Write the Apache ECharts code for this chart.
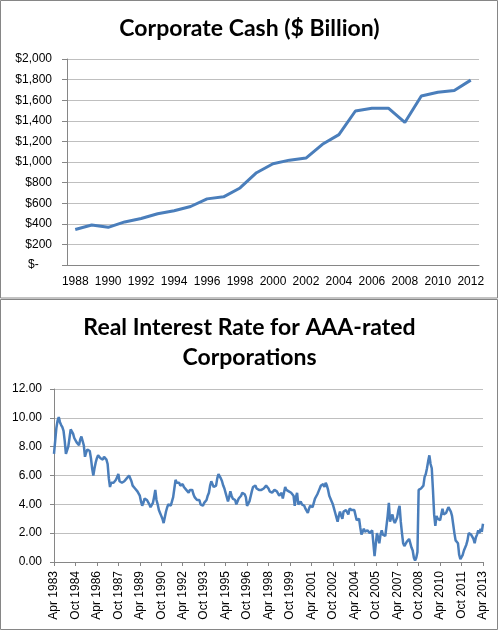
<!DOCTYPE html>
<html>
<head>
<meta charset="utf-8">
<title>Corporate Cash / Real Interest Rate</title>
<script src="https://cdn.jsdelivr.net/npm/echarts@6/dist/echarts.min.js"></script>
<style>
  html, body { margin: 0; padding: 0; background: #fff; }
  #chart { width: 499px; height: 632px; }
</style>
</head>
<body>
<div id="chart"></div>
<script>
// top chart: corporate cash, $ billion
const cashYears = ['1988', '1989', '1990', '1991', '1992', '1993', '1994', '1995', '1996', '1997',
  '1998', '1999', '2000', '2001', '2002', '2003', '2004', '2005', '2006', '2007',
  '2008', '2009', '2010', '2011', '2012'];
const cashValues = [345, 388, 366, 418, 452, 498, 527, 568, 642, 662,
  748, 896, 983, 1018, 1038, 1172, 1266, 1495, 1522, 1522,
  1384, 1641, 1678, 1695, 1795];

// bottom chart: real AAA rate, monthly from Apr 1983 to Apr 2013
const rateStart = { year: 1983, month: 3 };
const monthNames = ['Jan', 'Feb', 'Mar', 'Apr', 'May', 'Jun', 'Jul', 'Aug', 'Sep', 'Oct', 'Nov', 'Dec'];
const realRate = [
  7.5, 8.4, 9.3, 9.8, 10.05, 9.7, 9.5, 9.35, 9.1, 8.4, 7.5, 7.4, 8.0, 8.6, 9.2, 9.1, 8.9, 8.6, 8.5,
  8.3, 8.2, 8.1, 8.5, 8.7, 8.6, 8.1, 7.3, 7.6, 7.8, 7.8, 7.7, 7.2, 6.5, 6.0, 6.5, 6.9, 7.2,
  7.4, 7.3, 7.2, 7.2, 7.1, 7.3, 7.3, 7.1, 6.8, 5.8, 5.2, 5.5, 5.6, 5.5, 5.5, 5.7, 5.9, 6.1,
  5.6, 5.7, 5.5, 5.5, 5.6, 5.7, 5.8, 5.9, 6.0, 5.9, 5.6, 5.3, 5.2, 5.1, 5.1, 4.9, 4.8, 4.6,
  4.2, 3.9, 4.1, 4.4, 4.5, 4.3, 4.2, 4.0, 3.8, 3.9, 4.1, 4.5, 5.0, 4.3, 4.0, 3.6, 3.4, 3.2,
  3.0, 2.7, 3.1, 3.5, 3.8, 4.0, 3.9, 3.9, 4.2, 4.5, 5.1, 5.7, 5.5, 5.4, 5.5, 5.3, 5.3, 5.4,
  5.2, 5.1, 5.0, 5.0, 4.8, 5.0, 4.9, 5.0, 4.7, 4.5, 4.4, 4.3, 4.2, 4.3, 4.0, 3.9, 3.9, 4.1,
  4.0, 4.3, 4.6, 4.8, 5.3, 5.6, 5.5, 5.2, 5.3, 5.3, 5.8, 6.1, 6.0, 5.8, 5.6, 5.3, 5.1, 4.8,
  4.5, 4.2, 4.5, 4.9, 4.6, 4.4, 4.4, 4.3, 4.0, 4.2, 4.4, 4.5, 4.6, 4.8, 4.7, 4.7, 4.5, 3.9,
  3.8, 4.2, 4.3, 4.9, 5.2, 5.3, 5.3, 5.1, 5.0, 5.0, 4.9, 5.0, 5.0, 5.1, 5.2, 5.3, 5.2, 5.1,
  4.9, 4.9, 4.8, 4.9, 5.0, 4.9, 4.9, 4.8, 4.6, 4.7, 4.8, 4.4, 4.8, 5.2, 5.0, 4.9, 4.9, 5.0,
  4.8, 4.9, 4.6, 3.9, 4.5, 4.8, 4.0, 4.1, 4.2, 4.0, 4.0, 3.9, 3.7, 3.6, 3.4, 3.7, 3.9, 3.8,
  3.8, 4.1, 4.4, 4.5, 4.7, 4.9, 5.1, 5.3, 5.3, 5.4, 5.2, 5.5, 5.3, 5.0, 4.6, 4.5, 4.2, 4.0,
  3.7, 3.4, 3.1, 2.8, 3.2, 3.5, 3.2, 3.0, 3.5, 3.4, 3.6, 3.6, 3.3, 3.7, 3.7, 3.6, 3.7, 3.6,
  3.5, 2.9, 3.0, 3.0, 2.4, 1.9, 2.1, 2.3, 2.1, 2.0, 2.2, 2.3, 2.0, 1.9, 2.2, 2.3, 0.4, 1.2,
  2.0, 1.7, 1.3, 1.9, 2.2, 1.9, 1.8, 1.8, 1.9, 3.2, 4.1, 2.8, 3.1, 3.3, 2.9, 2.7, 2.9, 3.1,
  3.6, 3.9, 2.8, 2.0, 1.3, 1.1, 1.2, 1.4, 1.5, 1.6, 1.5, 1.0, 0.8, 0.3, 0.1, 0.3, 0.7, 5.0,
  5.0, 5.1, 5.2, 5.3, 5.9, 6.1, 6.5, 7.0, 7.4, 6.8, 6.5, 5.0, 3.3, 2.5, 3.2, 3.0, 3.1, 2.9,
  3.3, 3.7, 3.3, 3.3, 3.4, 3.6, 3.8, 3.7, 3.5, 3.2, 2.6, 2.0, 1.5, 1.4, 1.3, 0.5, 0.2, 0.3,
  0.5, 0.8, 0.9, 1.2, 1.5, 2.0, 2.0, 1.9, 1.8, 1.6, 1.3, 1.7, 1.9, 2.2, 2.0, 2.3, 2.1, 2.65
];

const rateMonths = realRate.map((v, i) => {
  const m = rateStart.month + i;
  return monthNames[m % 12] + ' ' + (rateStart.year + Math.floor(m / 12));
});

const lineColor = '#4a7ebb';
const axisGray = '#868686';
const gridGray = '#bfbfbf';
const labelFont = '"Liberation Sans", Arial, sans-serif';
const titleFont = 'Lato, "Open Sans", sans-serif';

const myChart = echarts.init(document.getElementById('chart'));

myChart.setOption({
  animation: false,
  title: [
    {
      text: 'Corporate Cash ($ Billion)',
      left: 'center',
      top: 12,
      textStyle: { fontFamily: titleFont, fontSize: 23, fontWeight: 'bold', color: '#000' }
    },
    {
      text: 'Real Interest Rate for AAA-rated\nCorporations',
      left: 'center',
      top: 308,
      textStyle: { fontFamily: titleFont, fontSize: 23, fontWeight: 'bold', color: '#000', lineHeight: 30 }
    }
  ],
  graphic: [
    { type: 'rect', shape: { x: 0.5, y: 0.5, width: 497, height: 297.5 }, style: { fill: 'none', stroke: axisGray, lineWidth: 1 }, silent: true },
    { type: 'rect', shape: { x: 0.5, y: 299.5, width: 497, height: 330 }, style: { fill: 'none', stroke: axisGray, lineWidth: 1 }, silent: true }
  ],
  grid: [
    { left: 67, top: 59, width: 412, height: 206 },
    { left: 54, top: 389, width: 429, height: 173 }
  ],
  xAxis: [
    {
      type: 'category',
      gridIndex: 0,
      data: cashYears,
      boundaryGap: true,
      axisLine: { lineStyle: { color: axisGray } },
      axisTick: { interval: 0, length: 5, lineStyle: { color: axisGray } },
      axisLabel: { interval: 1, margin: 11, color: '#000', fontFamily: labelFont, fontSize: 12 }
    },
    {
      type: 'category',
      gridIndex: 1,
      data: rateMonths,
      boundaryGap: false,
      axisLine: { lineStyle: { color: axisGray } },
      axisTick: { interval: 17, length: 4, lineStyle: { color: axisGray } },
      axisLabel: { interval: 17, rotate: 90, margin: 9, color: '#000', fontFamily: labelFont, fontSize: 12 }
    }
  ],
  yAxis: [
    {
      type: 'value',
      gridIndex: 0,
      min: 0,
      max: 2000,
      interval: 200,
      axisLine: { show: true, lineStyle: { color: axisGray } },
      axisTick: { show: true, length: 5, lineStyle: { color: axisGray } },
      splitLine: { lineStyle: { color: gridGray } },
      axisLabel: {
        margin: 15,
        color: '#000',
        fontFamily: labelFont,
        fontSize: 12,
        formatter: function (v) {
          if (v === 0) return '$-    ';
          return '$' + v.toLocaleString('en-US');
        }
      }
    },
    {
      type: 'value',
      gridIndex: 1,
      min: 0,
      max: 12,
      interval: 2,
      axisLine: { show: true, lineStyle: { color: axisGray } },
      axisTick: { show: true, length: 4, lineStyle: { color: axisGray } },
      splitLine: { lineStyle: { color: gridGray } },
      axisLabel: {
        margin: 12,
        color: '#000',
        fontFamily: labelFont,
        fontSize: 12,
        formatter: function (v) { return v.toFixed(2); }
      }
    }
  ],
  series: [
    {
      name: 'Corporate Cash',
      type: 'line',
      xAxisIndex: 0,
      yAxisIndex: 0,
      data: cashValues,
      showSymbol: false,
      lineStyle: { color: lineColor, width: 3 }
    },
    {
      name: 'Real Interest Rate',
      type: 'line',
      xAxisIndex: 1,
      yAxisIndex: 1,
      data: realRate,
      showSymbol: false,
      lineStyle: { color: lineColor, width: 2.5 }
    }
  ]
});
</script>
</body>
</html>
